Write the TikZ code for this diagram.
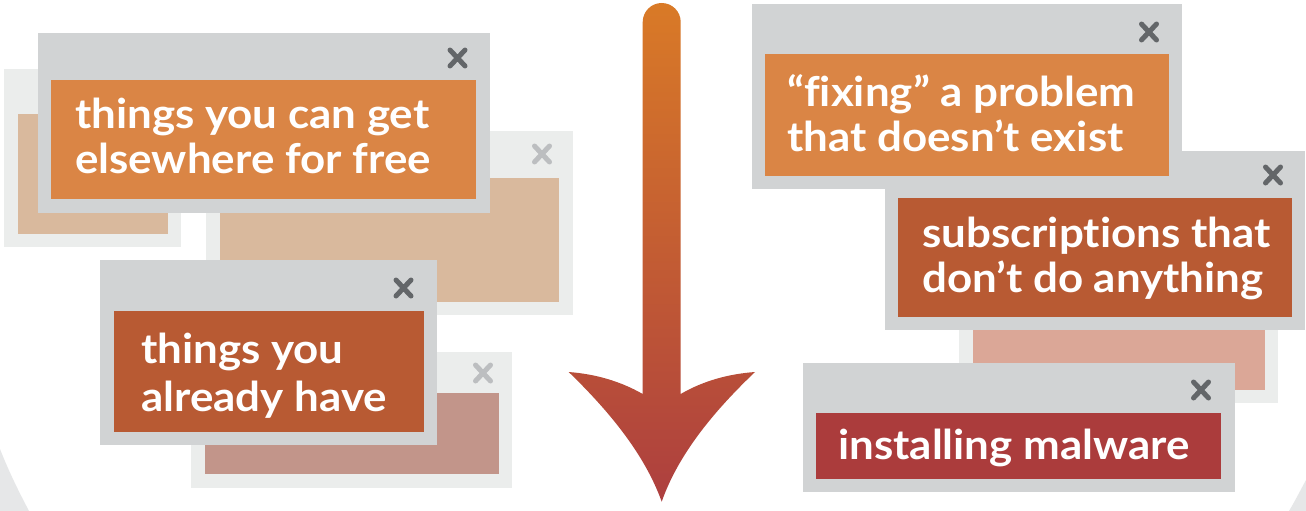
\documentclass[tikz,border=0pt]{standalone}
\usepackage{fontspec}
\setmainfont{Lato}[FakeStretch=1.07,Ligatures=NoCommon]
\definecolor{frameGrey}{HTML}{D1D3D4}
\definecolor{frameLight}{HTML}{EBEDEC}
\definecolor{closeDark}{HTML}{636669}
\definecolor{closeLight}{HTML}{BCBEC0}
\definecolor{cornerGrey}{HTML}{E6E7E8}
\definecolor{tan}{HTML}{D9B99D}
\definecolor{rosy}{HTML}{C2958A}
\definecolor{salmon}{HTML}{DBA797}
\definecolor{orangeFill}{HTML}{DA8545}
\definecolor{brickFill}{HTML}{B85A33}
\definecolor{redFill}{HTML}{AB3C3C}
\definecolor{arrowTop}{HTML}{D97A27}
\definecolor{arrowBottom}{HTML}{AD3F3F}
\tikzset{
  label text/.style={anchor=base west,inner sep=0pt,text=white,font=\fontsize{41}{45}\selectfont\bfseries},
  close mark/.style={line width=5pt,line cap=round},
}
% #1 frame colour, #2 frame corners, #3 panel colour, #4 panel corners
\newcommand{\winbox}[4]{\fill[#1] #2; \fill[#3] #4;}
\newcommand{\closex}[3]{\draw[close mark,#1] (#2-7.5,#3-8) -- (#2+7.5,#3+8) (#2-7.5,#3+8) -- (#2+7.5,#3-8);}
\begin{document}
\begin{tikzpicture}[x=1pt,y=-1pt]
\useasboundingbox (0,0) rectangle (1306,511);
\fill[white] (0,0) rectangle (1306,511);
% corner arcs
\fill[cornerGrey] (0,449) .. controls (9,472) and (19,492) .. (29,511) -- (0,511) -- cycle;
\fill[cornerGrey] (1306,480) .. controls (1300,491) and (1295,501) .. (1289,511) -- (1306,511) -- cycle;
% back windows, left
\winbox{frameLight}{(4,69) rectangle (181,247)}{tan}{(18,114) rectangle (168,234)}
\winbox{frameLight}{(206,130.5) rectangle (573,315)}{tan}{(219.5,177.5) rectangle (559,302)}
\closex{closeLight}{542}{154}
\winbox{frameLight}{(191,352) rectangle (512,488)}{rosy}{(205,392.5) rectangle (498.5,474)}
\closex{closeLight}{483}{373}
% front windows, left
\winbox{frameGrey}{(38,33) rectangle (489.5,213)}{orangeFill}{(51,80) rectangle (476,199)}
\closex{closeDark}{457.5}{58}
\winbox{frameGrey}{(100,260) rectangle (437,445)}{brickFill}{(113.5,311) rectangle (424,432)}
\closex{closeDark}{403.5}{288}
% right stack
\winbox{frameLight}{(959,300) rectangle (1278,403)}{salmon}{(973,310) rectangle (1265,390)}
\winbox{frameGrey}{(885,151) rectangle (1305,330)}{brickFill}{(898,197.5) rectangle (1292,317)}
\closex{closeDark}{1273}{175}
\winbox{frameGrey}{(752,4) rectangle (1182,189)}{orangeFill}{(765,54.5) rectangle (1169,176)}
\closex{closeDark}{1149}{32}
\winbox{frameGrey}{(802.5,362.5) rectangle (1234.5,492)}{redFill}{(815.5,412.5) rectangle (1221,479)}
\closex{closeDark}{1201}{390}
% arrow
\shade[top color=arrowTop,bottom color=arrowBottom]
  (642.7,22) arc[start angle=180,end angle=360,radius=19]
  -- (680.7,394)
  .. controls (703,381) and (728,374) .. (755,372)
  .. controls (713,412) and (678,455) .. (661.7,501.7)
  .. controls (645,455) and (610,412) .. (568.7,372)
  .. controls (595,374) and (620,381) .. (642.7,394)
  -- cycle;
% labels
\node[label text] (free1) at (75,128) {things you can get};
\node[label text] (free2) at (75,173) {elsewhere for free};
\node[label text] (have1) at (141,363) {things you};
\node[label text] (have2) at (141,411) {already have};
\node[label text] (fix1) at (787,106) {“fixing” a problem};
\node[label text] (fix2) at (787,151) {that doesn’t exist};
\node[label text] (sub1) at (922,247) {subscriptions that};
\node[label text] (sub2) at (922,292) {don’t do anything};
\node[label text] (mal) at (838,459) {installing malware};
\end{tikzpicture}
\end{document}
